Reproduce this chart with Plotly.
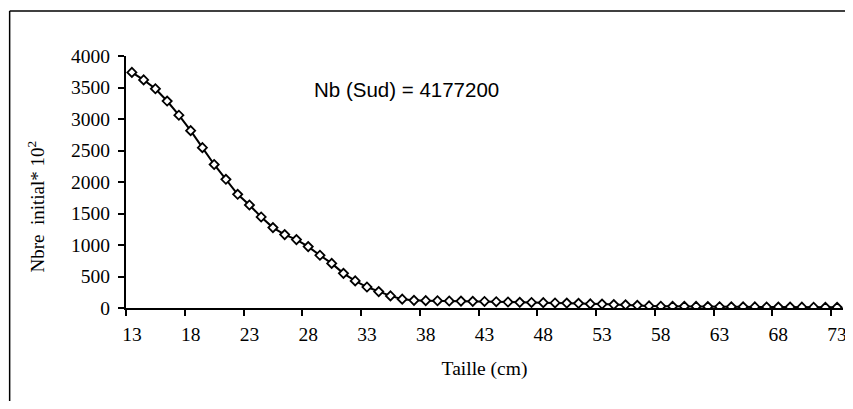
import plotly.graph_objects as go

# Data
sizes = list(range(13, 74))
counts = [3740, 3620, 3480, 3285, 3060, 2815, 2545, 2278, 2043, 1805,
          1635, 1445, 1276, 1165, 1086, 975, 837, 708, 550, 430,
          333, 260, 192, 140, 122, 117, 115, 111, 110, 106,
          104, 100, 95, 90, 88, 85, 80, 78, 74, 65,
          62, 54, 51, 42, 33, 28, 27, 26, 25, 22,
          20, 19, 18, 17, 16, 15, 14, 13, 12, 11, 10]
tick_labels = list(range(13, 74, 5))
boundary_ticks = [t - 0.5 for t in tick_labels]
y_ticks = list(range(0, 4001, 500))
annotation_text = "Nb (Sud) = 4177200"
x_title = "Taille (cm)"
y_title = "Nbre  initial* 10<sup>2</sup>"

# page has an 8px default body margin: figure drawn at (8, 8)
OFF = 8
W, H = 853 - OFF, 409 - 2 * OFF
ML = 126 - OFF
MT = 56 - OFF
MR = W - (847 - OFF)
MB = H - (308 - OFF)
PW, PH = W - ML - MR, H - MT - MB

def px_to_paper_x(px):  # px in page coordinates
    return (px - OFF - ML) / PW

def px_to_paper_y(py):
    return (H - MB - (py - OFF)) / PH

serif = "Liberation Serif, Times New Roman, serif"
sans = "Liberation Sans, Arial, sans-serif"

fig = go.Figure()
fig.add_trace(go.Scatter(
    x=sizes, y=counts, mode="lines+markers",
    line=dict(color="black", width=2),
    marker=dict(symbol="diamond", size=7, color="white",
                line=dict(color="black", width=1.8)),
    showlegend=False, hoverinfo="x+y",
))

fig.update_layout(
    width=W, height=H, autosize=False,
    margin=dict(l=ML, r=MR, t=MT, b=MB, pad=0),
    paper_bgcolor="white", plot_bgcolor="white",
    xaxis=dict(
        range=[12.5, 73.5], tickmode="array", tickvals=tick_labels,
        ticktext=[str(t) for t in tick_labels],
        ticks="", showline=True, linecolor="black", linewidth=2,
        showgrid=False, zeroline=False,
        tickfont=dict(family=serif, size=19.5, color="black"),
        ticklabelstandoff=8,
        minor=dict(tickmode="array", tickvals=boundary_ticks, ticks="outside",
                   ticklen=6, tickwidth=2, tickcolor="black", showgrid=False),
        title=dict(text=x_title, font=dict(family=serif, size=19.5, color="black"),
                   standoff=17),
    ),
    yaxis=dict(
        range=[0, 4000], tickmode="array", tickvals=y_ticks,
        ticks="outside", ticklen=6, tickwidth=2, tickcolor="black",
        showline=True, linecolor="black", linewidth=2,
        showgrid=False, zeroline=False,
        tickfont=dict(family=serif, size=19.5, color="black"),
        ticklabelstandoff=4,
    ),
    annotations=[
        dict(text=annotation_text, x=36.38, y=3476, xref="x", yref="y",
             showarrow=False, xanchor="center", yanchor="middle",
             font=dict(family=sans, size=20.5, color="black")),
        dict(text=y_title, x=px_to_paper_x(36), y=px_to_paper_y(206),
             xref="paper", yref="paper", textangle=-90, showarrow=False,
             xanchor="center", yanchor="middle",
             font=dict(family=serif, size=19, color="black")),
    ],
    shapes=[
        dict(type="line", xref="paper", yref="paper",
             x0=px_to_paper_x(9), x1=px_to_paper_x(870),
             y0=px_to_paper_y(11), y1=px_to_paper_y(11),
             line=dict(color="black", width=1.5)),
        dict(type="line", xref="paper", yref="paper",
             x0=px_to_paper_x(9), x1=px_to_paper_x(9),
             y0=px_to_paper_y(11), y1=px_to_paper_y(430),
             line=dict(color="black", width=1.5)),
    ],
)

fig.write_html("out.html")
